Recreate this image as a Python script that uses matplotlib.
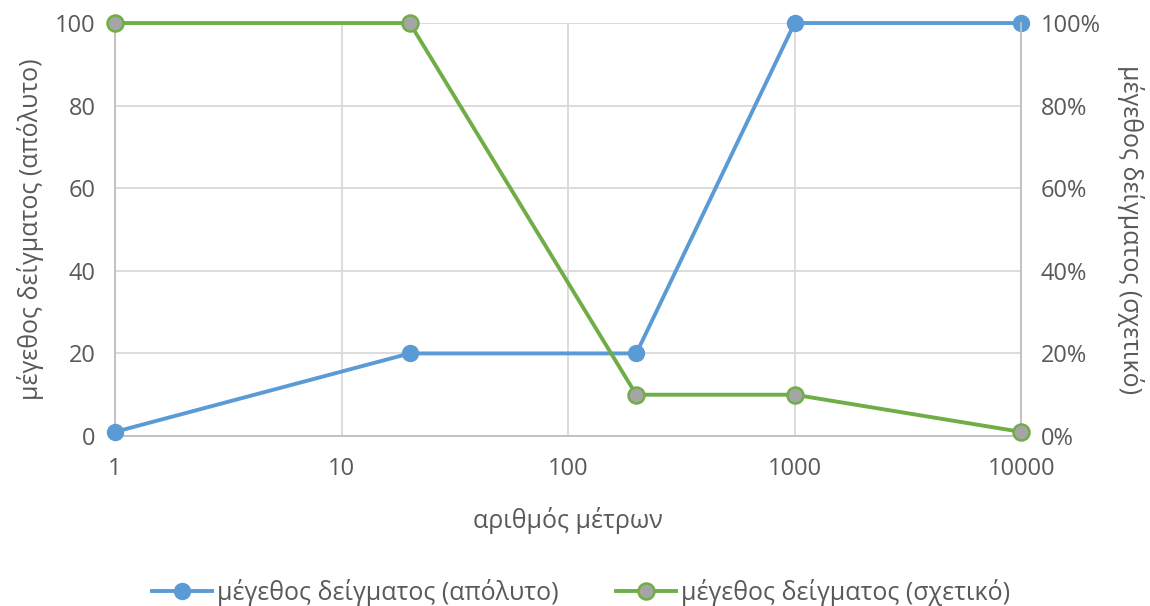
import matplotlib
matplotlib.use("Agg")
import matplotlib.pyplot as plt
from matplotlib.ticker import FixedLocator, FixedFormatter, NullLocator

plt.rcParams['font.family'] = ['Open Sans', 'DejaVu Sans']

x_vals = [1, 20, 200, 1000, 10000]
absolute = [1, 20, 20, 100, 100]
relative = [1.00, 1.00, 0.10, 0.10, 0.01]
x_ticks = [1, 10, 100, 1000, 10000]
x_tick_labels = ['1', '10', '100', '1000', '10000']
y_ticks = [0, 20, 40, 60, 80, 100]
y2_ticks = [0, 0.2, 0.4, 0.6, 0.8, 1.0]
y2_tick_labels = ['0%', '20%', '40%', '60%', '80%', '100%']

label_abs = 'μέγεθος δείγματος (απόλυτο)'
label_rel = 'μέγεθος δείγματος (σχετικό)'
xlabel = 'αριθμός μέτρων'

blue = '#5B9BD5'
green = '#70AD47'
gray_fill = '#A5A5A5'
text_c = '#595959'
grid_c = '#D9D9D9'
fs_tick = 17
fs_lab = 18

fig = plt.figure(figsize=(11.5, 6.06), dpi=100)
ax = fig.add_axes([0.1, 0.2805, 0.788, 0.6815])
ax2 = ax.twinx()

l1, = ax.plot(x_vals, absolute, color=blue, lw=2.8, marker='o', ms=11.5,
              markerfacecolor=blue, markeredgecolor=blue, label=label_abs, clip_on=False, zorder=3)
l2, = ax2.plot(x_vals, relative, color=green, lw=2.8, marker='o', ms=11.5,
               markerfacecolor=gray_fill, markeredgecolor=green, markeredgewidth=1.8,
               label=label_rel, clip_on=False, zorder=3)

ax.set_xscale('log')
ax.set_xlim(1, 10000)
ax.set_ylim(0, 100)
ax2.set_ylim(0, 1.0)
ax.xaxis.set_major_locator(FixedLocator(x_ticks))
ax.xaxis.set_major_formatter(FixedFormatter(x_tick_labels))
ax.xaxis.set_minor_locator(NullLocator())
ax.yaxis.set_major_locator(FixedLocator(y_ticks))
ax2.yaxis.set_major_locator(FixedLocator(y2_ticks))
ax2.yaxis.set_major_formatter(FixedFormatter(y2_tick_labels))

ax.grid(True, which='major', color=grid_c, lw=1.3)
ax.set_axisbelow(True)
for a in (ax, ax2):
    for s in a.spines.values():
        s.set_visible(False)
for a, side in ((ax, 'left'), (ax, 'bottom'), (ax2, 'right')):
    a.spines[side].set_visible(True)
    a.spines[side].set_color('#BFBFBF')
    a.spines[side].set_linewidth(1.3)

ax.tick_params(axis='x', length=0, labelsize=fs_tick, colors=text_c, pad=15)
ax.tick_params(axis='y', length=0, labelsize=fs_tick, colors=text_c, pad=14)
ax2.tick_params(axis='y', length=0, labelsize=fs_tick, colors=text_c, pad=14)

ax.set_xlabel(xlabel, fontsize=fs_lab, color=text_c, labelpad=19)
ax.set_ylabel(label_abs, fontsize=fs_lab, color=text_c, labelpad=8)
ax2.set_ylabel(label_rel, fontsize=fs_lab, color=text_c, rotation=-90, labelpad=31)

fig.legend(handles=[l1, l2], loc='center', bbox_to_anchor=(0.505, 0.022), ncol=2,
           frameon=False, fontsize=fs_lab, labelcolor=text_c, handlelength=2.4,
           handletextpad=0.2, columnspacing=2.3)

fig.savefig('out.png', dpi=100)
